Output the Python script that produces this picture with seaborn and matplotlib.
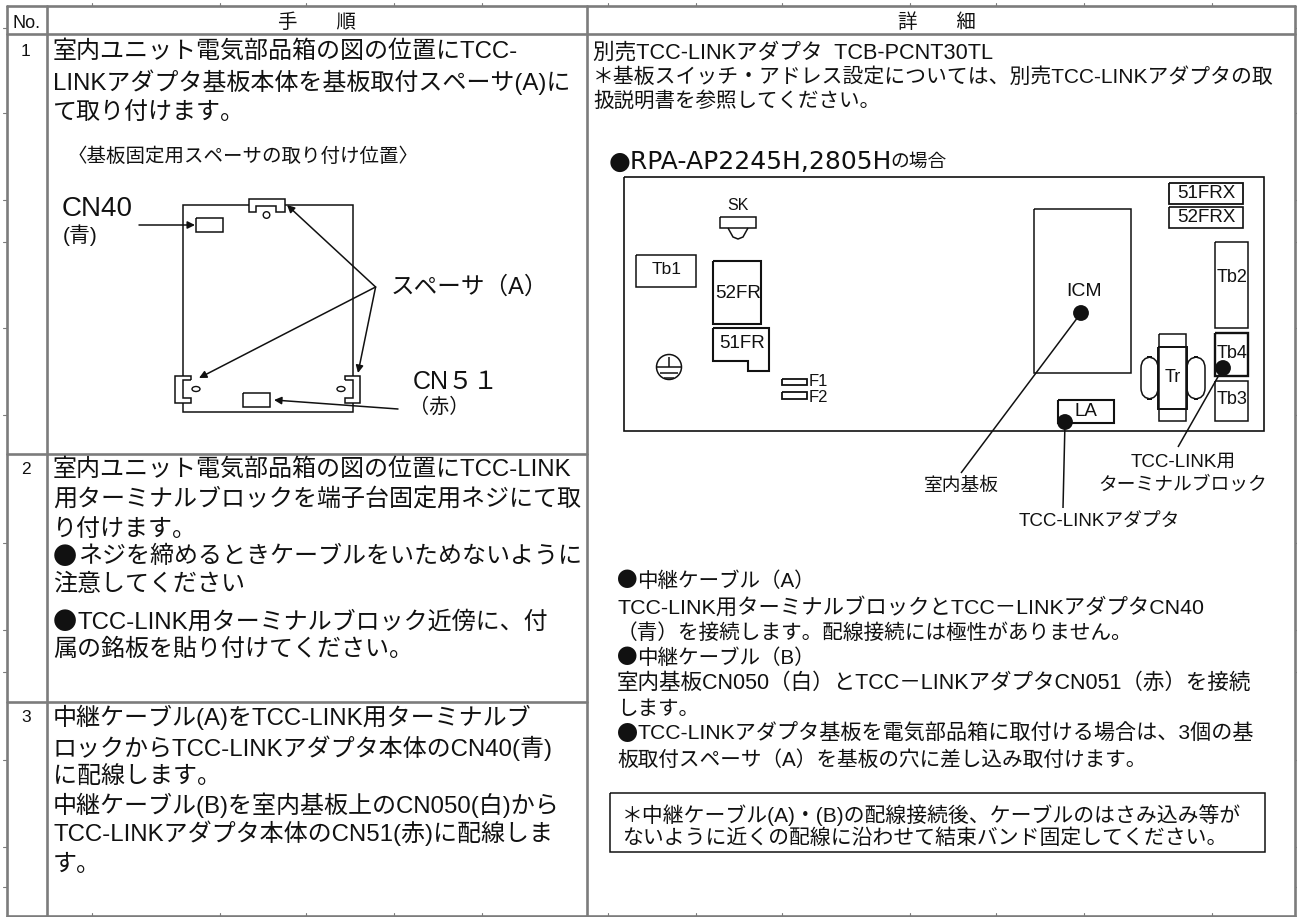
import matplotlib
matplotlib.use("Agg")
import matplotlib.pyplot as plt
from matplotlib import patches
import pandas as pd
import seaborn as sns

sns.set_theme(style="white")
plt.rcParams['font.family'] = ['Liberation Sans', 'Noto Sans CJK JP', 'DejaVu Sans']

### the text of the table

header_labels = ['No.', '手　　順', '詳　　細']
row_numbers = ['1', '2', '3']

step_lines = [
    '室内ユニット電気部品箱の図の位置にTCC-',
    'LINKアダプタ基板本体を基板取付スペーサ(A)に',
    'て取り付けます。',
    '室内ユニット電気部品箱の図の位置にTCC-LINK',
    '用ターミナルブロックを端子台固定用ネジにて取',
    'り付けます。',
    '●ネジを締めるときケーブルをいためないように',
    '注意してください',
    '●TCC-LINK用ターミナルブロック近傍に、付',
    '属の銘板を貼り付けてください。',
    '中継ケーブル(A)をTCC-LINK用ターミナルブ',
    'ロックからTCC-LINKアダプタ本体のCN40(青)',
    'に配線します。',
    '中継ケーブル(B)を室内基板上のCN050(白)から',
    'TCC-LINKアダプタ本体のCN51(赤)に配線しま',
    'す。',
]
step_y = [52, 82, 113, 470, 500, 530, 557, 585, 622, 650, 717, 748, 778, 805, 833, 865]

detail_lines = [
    '別売TCC-LINKアダプタ  TCB-PCNT30TL',
    '＊基板スイッチ・アドレス設定については、別売TCC-LINKアダプタの取',
    '扱説明書を参照してください。',
    '●中継ケーブル（A）',
    'TCC-LINK用ターミナルブロックとTCC－LINKアダプタCN40',
    '（青）を接続します。配線接続には極性がありません。',
    '●中継ケーブル（B）',
    '室内基板CN050（白）とTCC－LINKアダプタCN051（赤）を接続',
    'します。',
    '●TCC-LINKアダプタ基板を電気部品箱に取付ける場合は、3個の基',
    '板取付スペーサ（A）を基板の穴に差し込み取付けます。',
]
detail_y = [53, 77, 101, 581, 607, 633, 658, 683, 710, 734, 760]
detail_size = [15.6, 15, 14.8, 14.8, 15.4, 14.9, 14.8, 15.5, 14.8, 15.2, 14.9]

note_lines = [
    '＊中継ケーブル(A)・(B)の配線接続後、ケーブルのはさみ込み等が',
    'ないように近くの配線に沿わせて結束バンド固定してください。',
]

fig = plt.figure(figsize=(12.97, 9.17), dpi=100)
ax = fig.add_axes([0, 0, 1, 1])
ax.set_xlim(0, 1297)
ax.set_ylim(917, 0)
ax.axis('off')

### table rules, drawn in image pixels
### the row rules below the first row stop at the last column, it is one merged cell

rules = pd.DataFrame({
    'x': [7, 1295, 7, 1295, 7, 587, 7, 587, 7, 1295, 7, 7, 47, 47, 587, 587, 1295, 1295],
    'y': [6, 6, 34, 34, 454, 454, 702, 702, 915.5, 915.5, 6, 916, 6, 916, 6, 916, 6, 916],
    'rule': [0, 0, 1, 1, 2, 2, 3, 3, 4, 4, 5, 5, 6, 6, 7, 7, 8, 8],
})
sns.lineplot(data=rules, x='x', y='y', units='rule', estimator=None, sort=False,
             color='#7c7c7c', linewidth=1.9, ax=ax, legend=False)

# the little ticks round the outside of the sheet
for y in [28, 113, 200, 242, 328, 415, 543, 630, 672, 760, 847, 887]:
    ax.plot([3, 7], [y, y], color='#7c7c7c', linewidth=0.8)
    ax.plot([1295, 1297], [y, y], color='#7c7c7c', linewidth=0.8)
for x in [92, 220, 306, 394, 482, 608, 696, 782, 910, 996, 1084, 1212]:
    ax.plot([x, x], [3, 6], color='#7c7c7c', linewidth=0.8)
    ax.plot([x, x], [913, 916], color='#7c7c7c', linewidth=0.8)


def poly(points, lw=1.1, closed=False):
    xs = [p[0] for p in points]
    ys = [p[1] for p in points]
    if closed:
        xs.append(xs[0])
        ys.append(ys[0])
    ax.plot(xs, ys, color='#111111', linewidth=lw, solid_joinstyle='miter', solid_capstyle='butt')


def box(x0, y0, x1, y1, lw=1.1):
    poly([(x0, y0), (x1, y0), (x1, y1), (x0, y1)], lw=lw, closed=True)


def arrow(start, end):
    ax.annotate('', xy=end, xytext=start,
                arrowprops=dict(arrowstyle='-|>', color='#111111', lw=1.1, mutation_scale=11, shrinkA=0, shrinkB=0))


def label(x, y, s, size=10, ha='center', family=None):
    ax.text(x, y, s, fontsize=size, ha=ha, va='center', color='#111111', family=family or plt.rcParams['font.family'])


def body_line(x, y, s, size, indent):
    # Liberation has only a tiny bullet, so the big one comes from the CJK font
    if s.startswith('●'):
        label(x, y, '●', size=size, ha='left', family=['Noto Sans CJK JP'])
        label(x + indent, y, s[1:], size=size, ha='left')
    else:
        label(x, y, s, size=size, ha='left')


narrow = ['Liberation Sans Narrow', 'Liberation Sans']

### table text

label(27, 23, header_labels[0], size=13, family=narrow)
label(317, 23, header_labels[1], size=14)
label(937, 23, header_labels[2], size=14)
for n, y in zip(row_numbers, [51, 470, 717]):
    label(26, y, n, size=12.5, family=narrow)
for s, y in zip(step_lines, step_y):
    body_line(53, y, s, 17.3, 25)
for s, y, size in zip(detail_lines, detail_y, detail_size):
    body_line(593 if y < 300 else 617, y, s, size, 20)

### mounting position sketch

label(68, 157, '〈基板固定用スペーサの取り付け位置〉', size=14, ha='left')
poly([(249, 205), (183, 205), (183, 376)])
poly([(285, 205), (353, 205), (353, 376)])
poly([(183, 403), (183, 412), (353, 412), (353, 403)])
poly([(249, 205), (249, 199), (285, 199), (285, 212), (276, 212), (276, 206), (256, 206), (256, 212), (249, 212), (249, 205)])
poly([(191, 380), (191, 376), (175, 376), (175, 403), (191, 403), (191, 398), (183, 398), (183, 380), (191, 380)])
poly([(345, 380), (345, 376), (360, 376), (360, 403), (345, 403), (345, 398), (353, 398), (353, 380), (345, 380)])
ax.add_patch(patches.Circle((266.5, 215), 3.3, fill=False, ec='#111111', lw=1))
ax.add_patch(patches.Ellipse((196, 389), 8, 5, fill=False, ec='#111111', lw=1))
ax.add_patch(patches.Ellipse((341, 389), 8, 5, fill=False, ec='#111111', lw=1))
box(196, 218, 223, 232)
box(243, 393, 270, 407)
arrow((139, 225), (195, 225))
arrow((375.6, 287), (287, 205))
arrow((375.6, 287), (199, 378))
arrow((375.6, 287), (358, 373))
arrow((398, 409), (274, 400))
label(62, 209, 'CN40', size=20, ha='left')
label(63, 235, '(青)', size=15, ha='left')
label(391, 287, 'スペーサ（A）', size=17, ha='left')
label(413, 382, 'CN５１', size=18, ha='left')
label(409, 407, '（赤）', size=14.5, ha='left')

### control box sketch

label(609, 162, '●RPA-AP2245H,2805H', size=18, ha='left', family=['DejaVu Sans'])
label(890, 162, 'の場合', size=13.5, ha='left')
box(624, 177, 1264, 431, lw=1.2)
label(738, 205, 'SK', size=11.5, family=narrow)
box(720, 217, 756, 228)
poly([(728, 228), (733, 237), (738, 239), (743, 237), (748, 228)])
box(636, 255, 696, 287)
label(667, 270, 'Tb1', size=12.5, family=narrow)
box(713, 261, 761, 324, lw=1.5)
label(738, 293, '52FR', size=13.5, family=narrow)
poly([(713, 328), (769, 328), (769, 371), (748, 371), (748, 361), (713, 361)], lw=1.5, closed=True)
label(742, 344, '51FR', size=13.5, family=narrow)
ax.add_patch(patches.Circle((669, 367), 12.5, fill=False, ec='#111111', lw=1.1))
poly([(657, 367), (681, 367)])
poly([(660, 373), (678, 373)])
poly([(664, 378), (674, 378)])
poly([(669, 357), (669, 367)])
box(782, 379, 807, 385, lw=1.3)
box(782, 392, 807, 399, lw=1.3)
label(818, 381, 'F1', size=12, family=narrow)
label(818, 397, 'F2', size=12, family=narrow)
box(1034, 209, 1131, 373)
label(1084, 292, 'ICM', size=14, family=narrow)
box(1169, 183, 1243, 204, lw=1.3)
label(1206, 194, '51FRX', size=13.5, family=narrow)
box(1169, 207, 1243, 228, lw=1.2)
label(1206, 218, '52FRX', size=13.5, family=narrow)
box(1215, 242, 1248, 328)
label(1232, 278, 'Tb2', size=13, family=narrow)
box(1215, 333, 1248, 376, lw=1.7)
label(1232, 353, 'Tb4', size=13, family=narrow)
box(1215, 381, 1248, 421)
label(1232, 399, 'Tb3', size=13, family=narrow)
box(1058, 400, 1114, 423, lw=1.5)
label(1086, 412, 'LA', size=13.5, family=narrow)
box(1159, 334, 1186, 421)
box(1158, 347, 1187, 409, lw=1.4)
label(1173, 378, 'Tr', size=13, family=narrow)
ax.add_patch(patches.FancyBboxPatch((1141, 357), 17, 42, boxstyle='round,pad=0,rounding_size=11',
                                    fill=False, ec='#111111', lw=1.1))
ax.add_patch(patches.FancyBboxPatch((1187, 357), 18, 42, boxstyle='round,pad=0,rounding_size=11',
                                    fill=False, ec='#111111', lw=1.1))
leaders = [((1081, 313), (961, 473)), ((1065, 422), (1063, 508)), ((1223, 368), (1178, 447))]
for start, end in leaders:
    poly([start, end])
dots = pd.DataFrame({'x': [s[0] for s, e in leaders], 'y': [s[1] for s, e in leaders]})
sns.scatterplot(data=dots, x='x', y='y', s=130, color='#111111', edgecolor='none', ax=ax, legend=False)
label(961, 486, '室内基板', size=13.5)
label(1183, 462, 'TCC-LINK用', size=13.5)
label(1183, 485, 'ターミナルブロック', size=13.5)
label(1099, 522, 'TCC-LINKアダプタ', size=13.5)

### boxed note

box(610, 793, 1265, 852)
label(622, 815, note_lines[0], size=15, ha='left')
label(622, 838, note_lines[1], size=15, ha='left')

ax.set_xlim(0, 1297)
ax.set_ylim(917, 0)
ax.set_xlabel('')
ax.set_ylabel('')
fig.savefig('out.png', dpi=100, facecolor='white')
